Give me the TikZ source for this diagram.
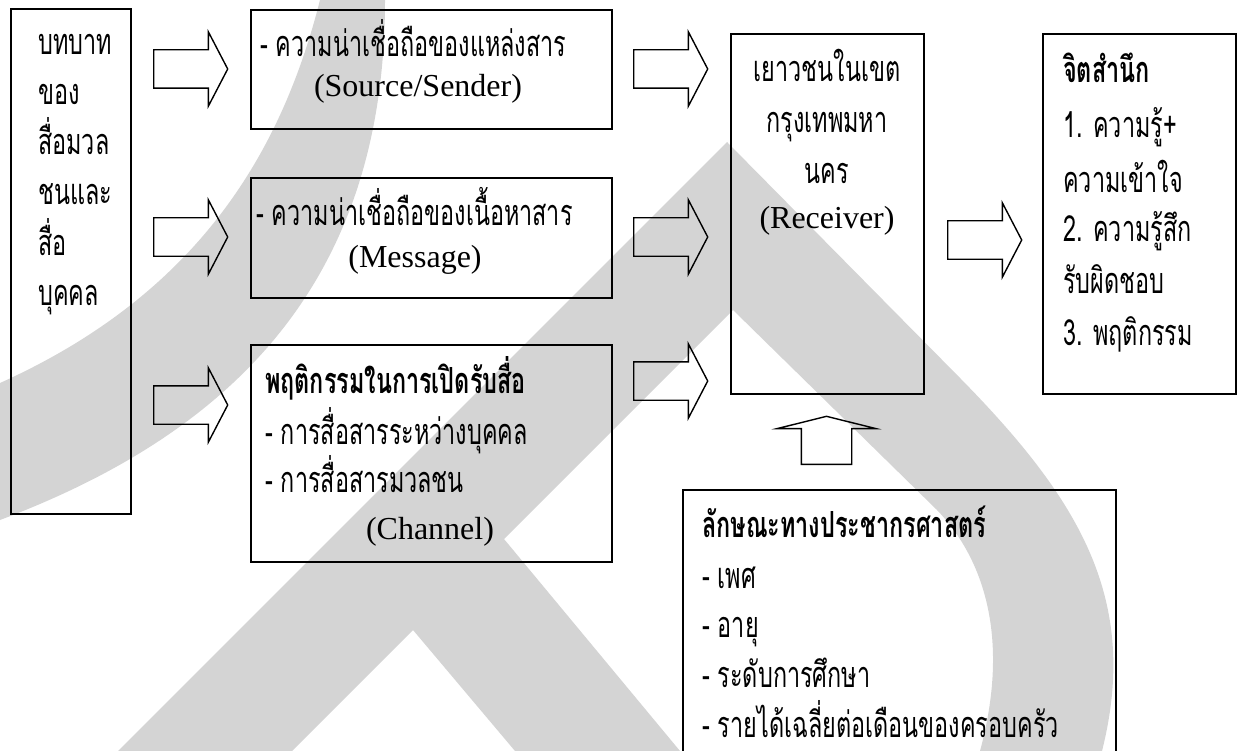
\documentclass[tikz,border=0pt]{standalone}
\usepackage{fontspec}
\setmainfont{Liberation Serif}
\newfontfamily\thai[Script=Thai,FakeStretch=0.65]{Loma}
\usetikzlibrary{shapes.arrows}

\tikzset{
  wmark/.style={fill=black!17},
  box/.style={draw, line width=1.6pt, inner sep=0pt, anchor=north west},
  blk/.style={single arrow, draw, line width=1.4pt, inner sep=0pt, anchor=tail,
    text height=37pt, text depth=0pt, text width=0pt, minimum height=74pt,
    single arrow head extend=18pt, single arrow tip angle=125},
  upblk/.style={blk, text height=49pt, minimum height=48pt,
    single arrow head extend=24pt, single arrow tip angle=152, rotate=90},
  th/.style={font=\thai\fontsize{36}{40}\selectfont, inner sep=0pt, anchor=base west,
    text height=24pt, text depth=3pt},
  thb/.style={th, font=\thai\bfseries\fontsize{36}{40}\selectfont},
  en/.style={font=\fontsize{32}{36}\selectfont, inner sep=0pt, anchor=base,
    text height=22pt, text depth=6pt},
}

\begin{document}
\begin{tikzpicture}[x=1pt,y=-1pt]
\useasboundingbox (0,0) rectangle (1241,751);
\clip (0,0) rectangle (1241,751);
% watermark
\fill[wmark] (320,0) .. controls (282,150) and (200,293) .. (0,383) -- (0,520)
  .. controls (234,432) and (385,280) .. (385,0) -- cycle;
\fill[wmark] (118,751) -- (727,142) -- (960,378) .. controls (1080,500) and (1140,600) .. (1102,751)
  -- (980,751) .. controls (1010,640) and (985,560) .. (937,510) -- (733,310) -- (504,539)
  -- (680,751) -- (515,751) -- (413,630) -- (292,751) -- cycle;

% boxes
\node[box, minimum width=120pt, minimum height=505pt] (role) at (10,8) {};
\node[box, minimum width=361pt, minimum height=119pt] (src) at (250,9) {};
\node[box, minimum width=361pt, minimum height=120pt] (msg) at (250,177) {};
\node[box, minimum width=361pt, minimum height=217pt] (chan) at (250,344) {};
\node[box, minimum width=193pt, minimum height=360pt] (recv) at (730,33) {};
\node[box, minimum width=193pt, minimum height=360pt] (aware) at (1042,33) {};
\node[box, minimum width=433pt, minimum height=300pt] (demo) at (682,489) {};

% role of media
\node[th] (role1) at (38,55) {บทบาท};
\node[th] (role2) at (38,105) {ของ};
\node[th] (role3) at (38,155) {สื่อมวล};
\node[th] (role4) at (38,205) {ชนและ};
\node[th] (role5) at (38,255) {สื่อ};
\node[th] (role6) at (38,305) {บุคคล};

% sender, message, channel
\node[th] (src1) at (260,57) {- ความน่าเชื่อถือของแหล่งสาร};
\node[en] (src2) at (418,97) {(Source/Sender)};
\node[th] (msg1) at (256,226) {- ความน่าเชื่อถือของเนื้อหาสาร};
\node[en] (msg2) at (415,267) {(Message)};
\node[thb] (chan1) at (265,393) {พฤติกรรมในการเปิดรับสื่อ};
\node[th] (chan2) at (265,444) {- การสื่อสารระหว่างบุคคล};
\node[th] (chan3) at (265,492) {- การสื่อสารมวลชน};
\node[en] (chan4) at (430,539) {(Channel)};

% receiver
\node[th, anchor=base] (recv1) at (827,82) {เยาวชนในเขต};
\node[th, anchor=base] (recv2) at (827,133) {กรุงเทพมหา};
\node[th, anchor=base] (recv3) at (827,184) {นคร};
\node[en] (recv4) at (827,229) {(Receiver)};

% awareness
\node[thb] (aware1) at (1063,83) {จิตสำนึก};
\node[th] (aware2) at (1063,138) {1. ความรู้+};
\node[th] (aware3) at (1063,193) {ความเข้าใจ};
\node[th] (aware4) at (1063,241) {2. ความรู้สึก};
\node[th] (aware5) at (1063,293) {รับผิดชอบ};
\node[th] (aware6) at (1063,345) {3. พฤติกรรม};

% demographics
\node[thb] (demo1) at (702,537) {ลักษณะทางประชากรศาสตร์};
\node[th] (demo2) at (702,588) {- เพศ};
\node[th] (demo3) at (702,637) {- อายุ};
\node[th] (demo4) at (702,687) {- ระดับการศึกษา};
\node[th] (demo5) at (702,737) {- รายได้เฉลี่ยต่อเดือนของครอบครัว};

% block arrows
\node[blk] (aL1) at (153,69) {};
\node[blk] (aL2) at (153,237) {};
\node[blk] (aL3) at (153,405) {};
\node[blk] (aM1) at (633,69) {};
\node[blk] (aM2) at (633,237) {};
\node[blk] (aM3) at (633,381) {};
\node[blk] (aR) at (947,240) {};
\node[upblk] (aU) at (826.5,465) {};
\end{tikzpicture}
\end{document}
